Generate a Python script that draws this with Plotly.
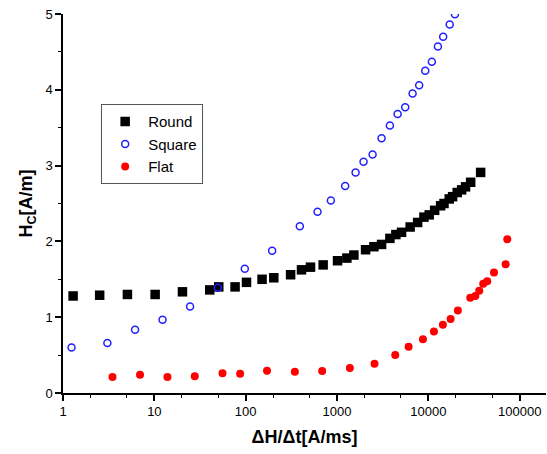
import plotly.graph_objects as go

# Round (black squares)
round_x = [1.29, 2.52, 5.07, 10.2, 20.3, 40.4, 50.7, 76.5, 102, 151, 203, 310, 408, 512, 704,
           1012, 1280, 1528, 2051, 2530, 3070, 3786, 4400, 5080, 6310, 7620, 8930, 10200,
           11700, 13600, 14800, 16900, 18400, 20650, 23100, 25500, 29000, 37300]
round_y = [1.28, 1.29, 1.30, 1.30, 1.335, 1.36, 1.40, 1.40, 1.46, 1.50, 1.52, 1.56, 1.625, 1.66, 1.69,
           1.745, 1.78, 1.82, 1.89, 1.93, 1.96, 2.04, 2.09, 2.12, 2.19, 2.25, 2.32, 2.35,
           2.41, 2.47, 2.50, 2.56, 2.59, 2.645, 2.68, 2.72, 2.78, 2.91]

# Square (blue open circles)
square_x = [1.24, 3.06, 6.15, 12.3, 24.6, 49.5, 97.7, 194.6, 391, 611, 855, 1227, 1595, 1950,
            2448, 3070, 3786, 4600, 5570, 6710, 7920, 9230, 10900, 12700, 14500, 17100, 19500]
square_y = [0.60, 0.66, 0.835, 0.966, 1.14, 1.39, 1.64, 1.876, 2.20, 2.39, 2.54, 2.73, 2.91, 3.05,
            3.145, 3.36, 3.53, 3.68, 3.77, 3.95, 4.06, 4.25, 4.37, 4.57, 4.70, 4.86, 4.996]

# Flat (red filled circles)
flat_x = [3.48, 6.97, 13.9, 27.7, 55.7, 86.9, 171, 345, 687, 1380, 2570, 4330, 6070, 8710,
          11490, 14400, 17500, 21000, 28700, 32600, 36000, 39800, 44000, 52200, 70000, 73000]
flat_y = [0.21, 0.24, 0.21, 0.22, 0.26, 0.255, 0.294, 0.28, 0.29, 0.33, 0.386, 0.50, 0.61, 0.71,
          0.81, 0.90, 0.975, 1.09, 1.256, 1.28, 1.35, 1.44, 1.475, 1.59, 1.70, 2.03]

x_tickvals = [1, 10, 100, 1000, 10000, 100000]
x_ticktext = ["1", "10", "100", "1000", "10000", "100000"]
y_tickvals = [0, 1, 2, 3, 4, 5]

FONT = "Liberation Sans, Arial, sans-serif"

fig = go.Figure()
fig.add_trace(go.Scatter(x=round_x, y=round_y, mode="markers", name="Round",
                         marker=dict(symbol="square", size=9.5, color="black")))
fig.add_trace(go.Scatter(x=square_x, y=square_y, mode="markers", name="Square",
                         marker=dict(symbol="circle-open", size=7, color="#2020ff",
                                     line=dict(width=1.5, color="#2020ff"))))
fig.add_trace(go.Scatter(x=flat_x, y=flat_y, mode="markers", name="Flat",
                         marker=dict(symbol="circle", size=8, color="#ff0000")))

fig.update_layout(
    width=547, height=454,
    margin=dict(l=63, r=1, t=14, b=61),
    paper_bgcolor="white", plot_bgcolor="white",
    font=dict(family=FONT, color="black", size=13),
    showlegend=True,
    legend=dict(x=0.079, y=0.762, xanchor="left", yanchor="top",
                bordercolor="#555555", borderwidth=1, bgcolor="white",
                font=dict(size=15, family=FONT), tracegroupgap=0, itemwidth=36),
)
fig.update_xaxes(
    type="log", range=[0, 5.287],
    tickvals=x_tickvals, ticktext=x_ticktext,
    showline=True, linecolor="black", linewidth=1.5,
    ticks="outside", ticklen=6, tickwidth=1.5, tickcolor="black",
    minor=dict(ticks="outside", ticklen=3, tickwidth=1.2, tickcolor="black", showgrid=False),
    showgrid=False, zeroline=False,
    tickfont=dict(size=13),
    title=dict(text="<b>ΔH/Δt[A/ms]</b>", font=dict(size=18), standoff=12),
)
fig.update_yaxes(
    range=[0, 5], tickvals=y_tickvals,
    showline=True, linecolor="black", linewidth=1.5,
    ticks="outside", ticklen=6, tickwidth=1.5, tickcolor="black",
    minor=dict(dtick=0.5, ticks="outside", ticklen=3, tickwidth=1.2, tickcolor="black", showgrid=False),
    showgrid=False, zeroline=False,
    tickfont=dict(size=13),
    title=dict(text="<b>H<sub>C</sub>[A/m]</b>", font=dict(size=18), standoff=8),
)

fig.write_html("out.html")
